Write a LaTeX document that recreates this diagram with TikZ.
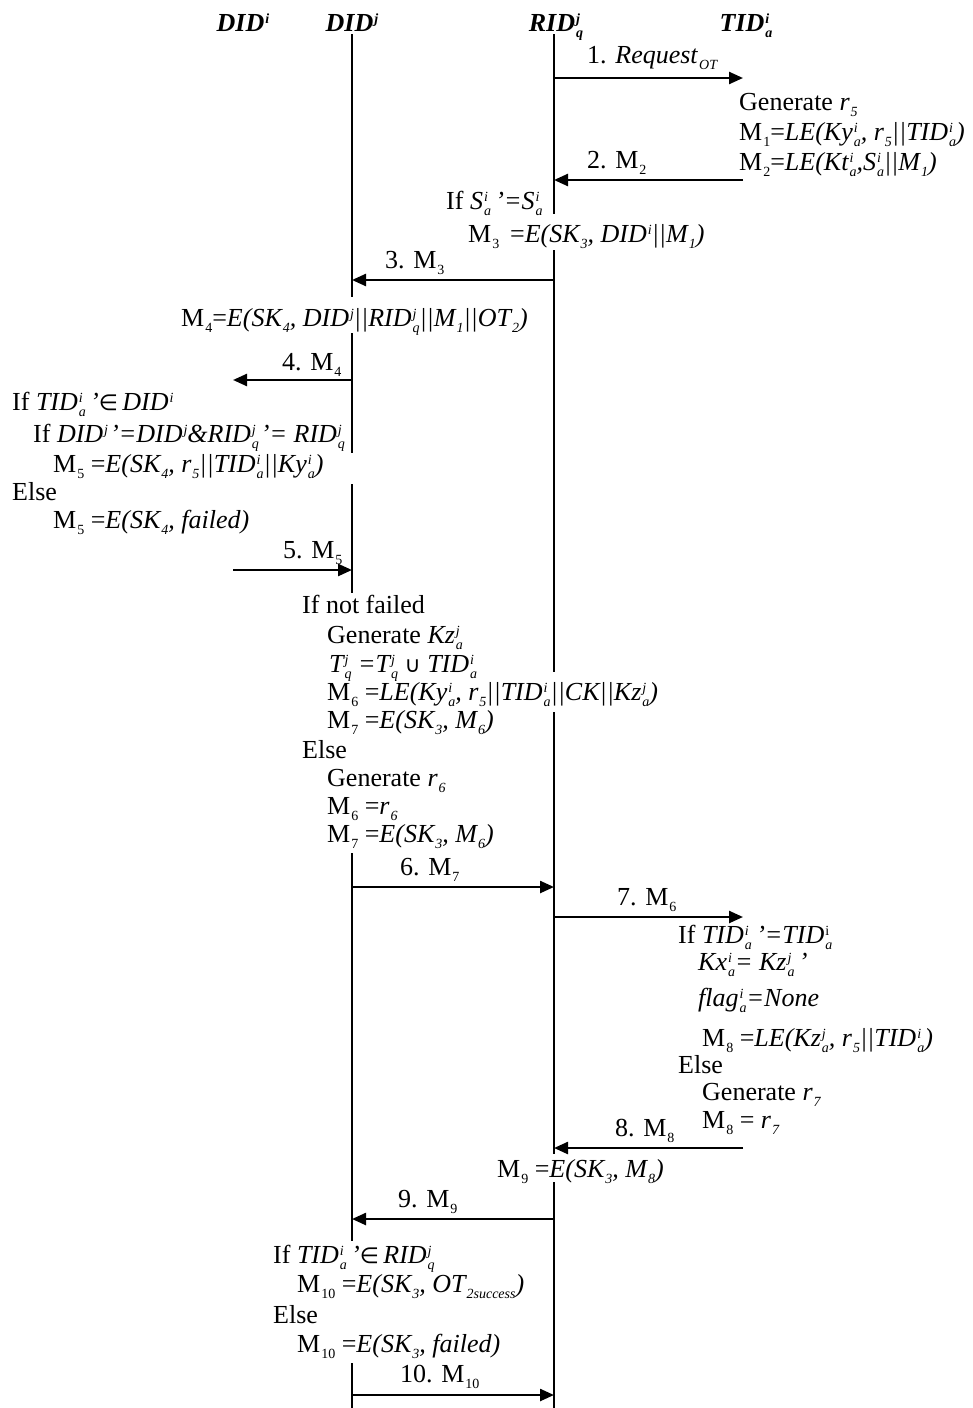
\documentclass[tikz,border=0pt]{standalone}
\usepackage{fontspec}
\setmainfont{Liberation Serif}
\newfontfamily\symf{DejaVu Sans}
\usetikzlibrary{arrows.meta}
\newcommand\scr{\fontsize{14}{14}\selectfont}
\newcommand\UP[1]{\kern1pt\raisebox{8pt}{\scr\itshape #1}}
\newcommand\DN[1]{\kern1pt\raisebox{-6pt}{\scr\itshape #1}}
\newcommand\DNr[1]{\kern1pt\raisebox{-6pt}{\scr\upshape #1}}
\newcommand\UD[2]{\rlap{\UP{#1}}\DN{#2}}
\newcommand\qt{\,’}
\newcommand\qs{\kern2pt’}
\begin{document}
\begin{tikzpicture}[x=1pt,y=-1pt,
  txt/.style={anchor=base west, inner sep=0pt, font=\fontsize{26}{30}\selectfont},
  head/.style={anchor=base, inner sep=0pt, font=\fontsize{26}{30}\selectfont\bfseries\itshape},
  life/.style={line width=1.8pt},
  msg/.style={line width=2.4pt, -{Triangle[length=14pt,width=12pt]}}]
\useasboundingbox[fill=white] (0,0) rectangle (972,1408);
% headers
\node[head] (hDi) at (243,31) {DID\UP{i}};
\node[head] (hDj) at (352,31) {DID\UP{j}};
\node[head] (hR)  at (556,31) {RID\UD{j}{q}};
\node[head] (hT)  at (746,31) {TID\UD{i}{a}};
% lifeline coordinates
\foreach \n/\y in {1/34,2/297,3/333,4/453,5/484,6/593,7/853,8/1241,9/1363,10/1408}
  \coordinate (J\n) at (352,\y);
\foreach \n/\y in {1/34,2/214,3/250,4/672,5/712,6/1154,7/1182,8/1408}
  \coordinate (R\n) at (554,\y);
\draw[life] (J1) -- (J2) (J3) -- (J4) (J5) -- (J6) (J7) -- (J8) (J9) -- (J10);
\draw[life] (R1) -- (R2) (R3) -- (R4) (R5) -- (R6) (R7) -- (R8);
% arrow end points
\coordinate (a1s) at (554,78);   \coordinate (a1e) at (743,78);
\coordinate (a2s) at (743,180);  \coordinate (a2e) at (554,180);
\coordinate (a3s) at (554,280);  \coordinate (a3e) at (352,280);
\coordinate (a4s) at (352,380);  \coordinate (a4e) at (233,380);
\coordinate (a5s) at (233,570);  \coordinate (a5e) at (352,570);
\coordinate (a6s) at (352,887);  \coordinate (a6e) at (554,887);
\coordinate (a7s) at (554,917);  \coordinate (a7e) at (743,917);
\coordinate (a8s) at (743,1148); \coordinate (a8e) at (554,1148);
\coordinate (a9s) at (554,1219); \coordinate (a9e) at (352,1219);
\coordinate (a10s) at (352,1395); \coordinate (a10e) at (554,1395);
\foreach \i in {1,...,10} \draw[msg] (a\i s) -- (a\i e);
% arrow labels
\node[txt] (l1) at (587,63) {1. \textit{Request}\DN{OT}};
\node[txt] (l2) at (587,168) {2. M\DNr{2}};
\node[txt] (l3) at (385,268) {3. M\DNr{3}};
\node[txt] (l4) at (282,370) {4. M\DNr{4}};
\node[txt] (l5) at (283,558) {5. M\DNr{5}};
\node[txt] (l6) at (400,875) {6. M\DNr{7}};
\node[txt] (l7) at (617,905) {7. M\DNr{6}};
\node[txt] (l8) at (615,1136) {8. M\DNr{8}};
\node[txt] (l9) at (398,1207) {9. M\DNr{9}};
\node[txt] (l10) at (400,1382) {10. M\DNr{10}};
% TID block 1
\node[txt] (b1) at (739,110) {Generate \textit{r\DN{5}}};
\node[txt] (b2) at (739,140) {M\DNr{1}=\textit{LE(Ky\UD{i}{a}, r\DN{5}||TID\UD{i}{a})}};
\node[txt] (b3) at (739,170) {M\DNr{2}=\textit{LE(Kt\UD{i}{a},S\UD{i}{a}||M\DN{1})}};
% RID block 1
\node[txt] (c1) at (446,209) {If \textit{S\UD{i}{a}\qt=S\UD{i}{a}}};
\node[txt] (c2) at (468,242) {M\DNr{3}\,\ =\textit{E(SK\DN{3}, DID\UP{i}||M\DN{1})}};
% DIDj M4
\node[txt] (d1) at (181,326) {M\DNr{4}=\textit{E(SK\DN{4}, DID\UP{j}||RID\UD{j}{q}||M\DN{1}||OT\DN{2})}};
% DIDi block
\node[txt] (e1) at (12,410) {If \textit{TID\UD{i}{a}\qt}{\symf\fontsize{22}{26}\selectfont ∈}\,\textit{DID\UP{i}}};
\node[txt] (e2) at (33,442) {If \textit{DID\UP{j}\qs=DID\UP{j}\&RID\UD{j}{q}\qs= RID\UD{j}{q}}};
\node[txt] (e3) at (53,472) {M\DNr{5} =\textit{E(SK\DN{4}, r\DN{5}||TID\UD{i}{a}||Ky\UD{i}{a})}};
\node[txt] (e4) at (12,500) {Else};
\node[txt] (e5) at (53,528) {M\DNr{5} =\textit{E(SK\DN{4}, failed)}};
% DIDj block
\node[txt] (f1) at (302,613) {If not failed};
\node[txt] (f2) at (327,643) {Generate \textit{Kz\UD{j}{a}}};
\node[txt] (f3) at (329,672) {\textit{T\UD{j}{q} =T\UD{j}{q}} {\symf\fontsize{22}{26}\selectfont ∪} \textit{TID\UD{i}{a}}};
\node[txt] (f4) at (327,700) {M\DNr{6} =\textit{LE(Ky\UD{i}{a}, r\DN{5}||TID\UD{i}{a}||CK||Kz\UD{j}{a})}};
\node[txt] (f5) at (327,728) {M\DNr{7} =\textit{E(SK\DN{3}, M\DN{6})}};
\node[txt] (f6) at (302,758) {Else};
\node[txt] (f7) at (327,786) {Generate \textit{r\DN{6}}};
\node[txt] (f8) at (327,814) {M\DNr{6} =\textit{r\DN{6}}};
\node[txt] (f9) at (327,842) {M\DNr{7} =\textit{E(SK\DN{3}, M\DN{6})}};
% TID block 2
\node[txt] (g1) at (678,943) {If \textit{TID\UD{i}{a}\qt=TID}\UD{\upshape i}{a}};
\node[txt] (g2) at (698,970) {\textit{Kx\UD{i}{a}= Kz\UD{j}{a}\qt}};
\node[txt] (g3) at (698,1006) {\textit{flag\UD{i}{a}=None}};
\node[txt] (g4) at (702,1046) {M\DNr{8} =\textit{LE(Kz\UD{j}{a}, r\DN{5}||TID\UD{i}{a})}};
\node[txt] (g5) at (678,1073) {Else};
\node[txt] (g6) at (702,1100) {Generate \textit{r\DN{7}}};
\node[txt] (g7) at (702,1128) {M\DNr{8} = \textit{r\DN{7}}};
% RID M9
\node[txt] (h1) at (497,1177) {M\DNr{9} =\textit{E(SK\DN{3}, M\DN{8})}};
% DIDj block 2
\node[txt] (k1) at (273,1263) {If \textit{TID\UD{i}{a}\qt}{\symf\fontsize{22}{26}\selectfont ∈}\,\textit{RID\UD{j}{q}}};
\node[txt] (k2) at (297,1292) {M\DNr{10} =\textit{E(SK\DN{3}, OT\DN{2success})}};
\node[txt] (k3) at (273,1323) {Else};
\node[txt] (k4) at (297,1352) {M\DNr{10} =\textit{E(SK\DN{3}, failed)}};
\end{tikzpicture}
\end{document}
